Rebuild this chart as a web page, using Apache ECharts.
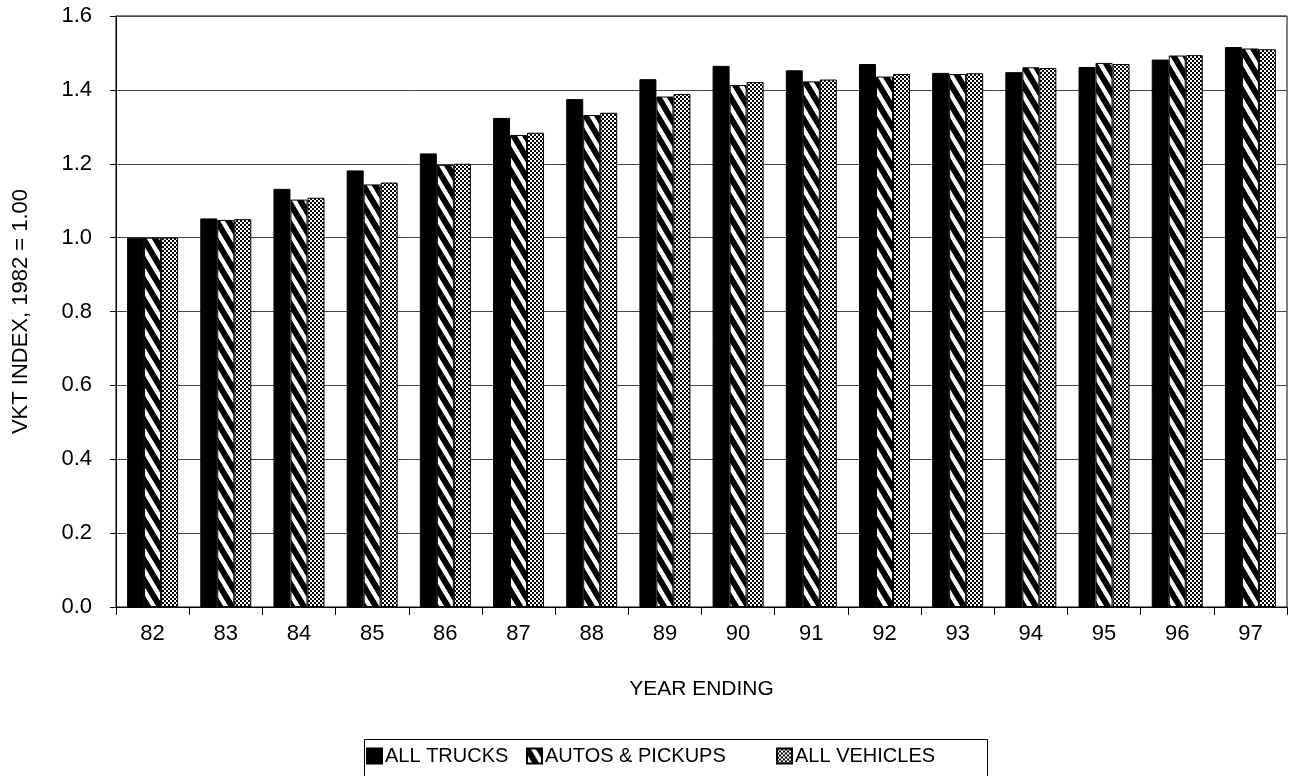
<!DOCTYPE html>
<html>
<head>
    <meta charset="utf-8">
    <title>VKT index</title>
    <style type="text/css">
        html, body {
            width: 100%;
            height: 100%;
            margin: 0;
            padding: 0;
            background: #fff;
        }
        #main {
            width: 1290px;
            height: 776px;
        }
    </style>
    <script src="https://cdn.jsdelivr.net/npm/echarts@6/dist/echarts.min.js"></script>
</head>
<body>
<div id="main"></div>
<script type="text/javascript">
    // values
    var years = ['82', '83', '84', '85', '86', '87', '88', '89', '90', '91', '92', '93', '94', '95', '96', '97'];
    var allTrucks = [1.00, 1.052, 1.132, 1.182, 1.228, 1.324, 1.375, 1.429, 1.465, 1.453, 1.47, 1.446, 1.448, 1.462, 1.482, 1.516];
    var autosPickups = [1.00, 1.048, 1.103, 1.144, 1.197, 1.278, 1.332, 1.382, 1.413, 1.423, 1.436, 1.443, 1.461, 1.473, 1.493, 1.512];
    var allVehicles = [1.00, 1.05, 1.108, 1.149, 1.20, 1.284, 1.338, 1.389, 1.421, 1.428, 1.443, 1.445, 1.459, 1.47, 1.494, 1.51];
    var yTicks = [0, 0.2, 0.4, 0.6, 0.8, 1.0, 1.2, 1.4, 1.6];
    var seriesNames = ['ALL TRUCKS', 'AUTOS & PICKUPS', 'ALL VEHICLES'];

    // diagonal hatch fill
    function hatchPattern() {
        var c = document.createElement('canvas');
        c.width = 12;
        c.height = 20;
        var ctx = c.getContext('2d');
        ctx.fillStyle = '#fff';
        ctx.fillRect(0, 0, 12, 20);
        ctx.strokeStyle = '#000';
        ctx.lineWidth = 6;
        for (var k = -1; k <= 1; k++) {
            ctx.beginPath();
            ctx.moveTo(k * 12 - 3, -5);
            ctx.lineTo(k * 12 + 15, 25);
            ctx.stroke();
        }
        return c;
    }

    // fine dither fill
    function dotPattern() {
        var c = document.createElement('canvas');
        c.width = 4;
        c.height = 4;
        var ctx = c.getContext('2d');
        ctx.fillStyle = '#fff';
        ctx.fillRect(0, 0, 4, 4);
        ctx.fillStyle = '#000';
        ctx.fillRect(0, 0, 2, 2);
        ctx.fillRect(2, 2, 2, 2);
        return c;
    }

    var font = '"Liberation Sans", Arial, sans-serif';
    var myChart = echarts.init(document.getElementById('main'));

    // one legend per item so each can sit where it is in the picture
    var legendLefts = [366, 526, 776];
    var legends = seriesNames.map(function (n, i) {
        return {
            left: legendLefts[i],
            top: 746,
            padding: 0,
            itemWidth: 15,
            itemHeight: 15,
            icon: 'rect',
            textStyle: { fontFamily: font, fontSize: 20, color: '#000', padding: [0, 0, 0, -2] },
            data: [n]
        };
    });

    var option = {
        animation: false,
        backgroundColor: '#fff',
        textStyle: { fontFamily: font, color: '#000' },
        grid: {
            left: 116,
            right: 3,
            top: 16,
            bottom: 169,
            outerBoundsMode: 'none',
            containLabel: false,
            show: true,
            borderColor: '#000',
            borderWidth: 1
        },
        graphic: [{
            type: 'rect',
            left: 362,
            top: 737,
            shape: { width: 623, height: 50 },
            style: { fill: 'none', stroke: '#000', lineWidth: 1 },
            silent: true
        }],
        legend: legends,
        xAxis: {
            type: 'category',
            data: years,
            name: 'YEAR ENDING',
            nameLocation: 'middle',
            nameGap: 72,
            nameTextStyle: { fontFamily: font, fontSize: 21, color: '#000' },
            axisLine: { lineStyle: { color: '#000', width: 1 } },
            axisTick: { show: true, interval: 0, length: 8, lineStyle: { color: '#000' } },
            axisLabel: { fontFamily: font, fontSize: 22, color: '#000', margin: 16 }
        },
        yAxis: {
            type: 'value',
            min: yTicks[0],
            max: yTicks[yTicks.length - 1],
            interval: 0.2,
            name: 'VKT INDEX, 1982 = 1.00',
            nameLocation: 'middle',
            nameGap: 84,
            nameTextStyle: { fontFamily: font, fontSize: 22, color: '#000' },
            axisLine: { show: true, lineStyle: { color: '#000', width: 1 } },
            axisTick: { show: true, length: 6, lineStyle: { color: '#000' } },
            axisLabel: {
                fontFamily: font,
                fontSize: 22,
                color: '#000',
                margin: 24,
                formatter: function (v) { return v.toFixed(1); }
            },
            splitLine: { show: true, lineStyle: { color: '#444', width: 1 } }
        },
        series: [
            {
                name: seriesNames[0],
                type: 'bar',
                data: allTrucks,
                barWidth: 17,
                barGap: '0%',
                itemStyle: { color: '#000', borderColor: '#000', borderWidth: 1 }
            },
            {
                name: seriesNames[1],
                type: 'bar',
                data: autosPickups,
                barWidth: 17,
                barGap: '0%',
                itemStyle: {
                    color: { image: hatchPattern(), repeat: 'repeat' },
                    borderColor: '#000',
                    borderWidth: 1
                }
            },
            {
                name: seriesNames[2],
                type: 'bar',
                data: allVehicles,
                barWidth: 17,
                barGap: '0%',
                itemStyle: {
                    color: { image: dotPattern(), repeat: 'repeat' },
                    borderColor: '#000',
                    borderWidth: 1
                }
            }
        ]
    };

    myChart.setOption(option);
</script>
</body>
</html>
